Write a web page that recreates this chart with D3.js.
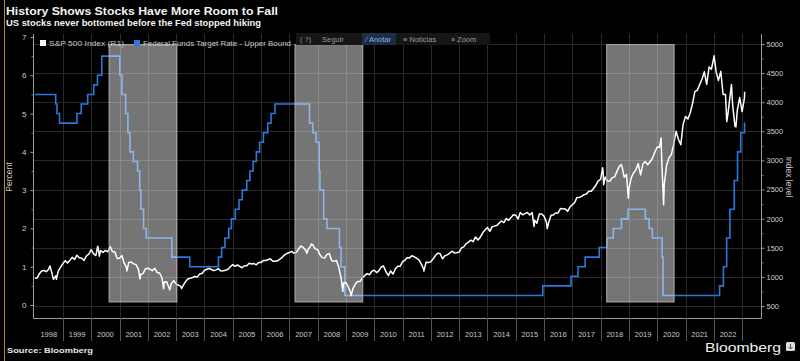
<!DOCTYPE html>
<html>
<head>
<meta charset="utf-8">
<script src="https://cdn.jsdelivr.net/npm/d3@7"></script>
<style>
  html, body { margin: 0; padding: 0; background: #000; }
  svg { display: block; font-family: "Liberation Sans", Arial, sans-serif; }
</style>
</head>
<body>
<div id="chart"></div>
<script>
// S&P 500 month-end closes, Jan 1998 .. Jan 2023 (read off the chart / rough)
var spxFirstMonth = "1998-01";
var spxMonthly = [
  980, 1049, 1101, 1111, 1090, 1133, 1120, 957, 1017, 1098, 1163, 1229,
  1279, 1238, 1286, 1335, 1301, 1372, 1328, 1320, 1282, 1362, 1389, 1469,
  1394, 1366, 1499, 1452, 1421, 1455, 1431, 1518, 1437, 1429, 1315, 1320,
  1366, 1240, 1160, 1249, 1256, 1224, 1211, 1134, 1041, 1060, 1139, 1148,
  1130, 1107, 1147, 1077, 1067, 990, 912, 916, 815, 886, 936, 880,
  856, 841, 848, 916, 964, 975, 990, 1008, 996, 1051, 1058, 1112,
  1131, 1145, 1126, 1107, 1121, 1141, 1102, 1104, 1115, 1130, 1174, 1212,
  1181, 1204, 1181, 1157, 1192, 1191, 1234, 1220, 1229, 1207, 1249, 1248,
  1280, 1281, 1295, 1311, 1270, 1270, 1277, 1304, 1336, 1378, 1401, 1418,
  1438, 1407, 1421, 1482, 1531, 1503, 1455, 1474, 1527, 1549, 1481, 1468,
  1379, 1331, 1323, 1386, 1400, 1280, 1267, 1283, 1165, 969, 896, 903,
  826, 735, 798, 873, 919, 919, 987, 1021, 1057, 1036, 1096, 1115,
  1074, 1104, 1169, 1187, 1089, 1031, 1102, 1049, 1141, 1183, 1181, 1258,
  1286, 1327, 1326, 1364, 1345, 1321, 1292, 1219, 1131, 1253, 1247, 1258,
  1312, 1366, 1408, 1398, 1310, 1362, 1379, 1407, 1441, 1412, 1416, 1426,
  1498, 1515, 1569, 1598, 1631, 1606, 1686, 1633, 1682, 1757, 1806, 1848,
  1783, 1859, 1872, 1884, 1924, 1960, 1931, 2003, 1972, 2018, 2068, 2059,
  1995, 2105, 2068, 2086, 2107, 2063, 2104, 1972, 1920, 2079, 2080, 2044,
  1940, 1932, 2060, 2065, 2097, 2099, 2174, 2171, 2168, 2126, 2199, 2239,
  2279, 2364, 2363, 2384, 2412, 2423, 2470, 2472, 2519, 2575, 2648, 2674,
  2824, 2714, 2641, 2648, 2705, 2718, 2816, 2902, 2914, 2712, 2760, 2507,
  2704, 2784, 2834, 2946, 2752, 2942, 2980, 2926, 2977, 3038, 3141, 3231,
  3226, 2954, 2585, 2912, 3044, 3100, 3271, 3500, 3363, 3270, 3622, 3756,
  3714, 3811, 3973, 4181, 4204, 4298, 4395, 4523, 4308, 4605, 4567, 4766,
  4516, 4374, 4530, 4132, 4132, 3785, 4130, 3955, 3586, 3872, 4080, 3840,
  4077
];
// intra-month highs / lows that show up as spikes in the line
var spxExtremeDates = ["1998-01-02","1998-07-17","1998-10-08","2000-03-24","2000-04-14","2000-09-01",
  "2001-04-04","2001-09-21","2002-07-23","2002-10-09","2003-03-11","2007-08-15","2007-10-09",
  "2008-11-20","2009-03-09","2010-07-02","2011-10-03","2015-08-25","2016-02-11","2018-01-26",
  "2018-02-08","2018-09-20","2018-12-24","2020-02-19","2020-03-23","2022-01-03","2022-06-16",
  "2022-08-16","2022-10-12","2023-02-02"];
var spxExtremeValues = [975, 1187, 960, 1527, 1356, 1520,
  1103, 966, 797, 777, 800, 1406, 1565,
  752, 677, 1022, 1099, 1867, 1829, 2873,
  2581, 2931, 2351, 3386, 2237, 4797, 3667,
  4305, 3577, 4180];

// Fed funds target rate, upper bound: change dates and new level
var fedDates = ["1998-01-01","1998-09-29","1998-10-15","1998-11-17","1999-06-30","1999-08-24","1999-11-16",
  "2000-02-02","2000-03-21","2000-05-16","2001-01-03","2001-01-31","2001-03-20","2001-04-18","2001-05-15",
  "2001-06-27","2001-08-21","2001-09-17","2001-10-02","2001-11-06","2001-12-11","2002-11-06","2003-06-25",
  "2004-06-30","2004-08-10","2004-09-21","2004-11-10","2004-12-14","2005-02-02","2005-03-22","2005-05-03",
  "2005-06-30","2005-08-09","2005-09-20","2005-11-01","2005-12-13","2006-01-31","2006-03-28","2006-05-10",
  "2006-06-29","2007-09-18","2007-10-31","2007-12-11","2008-01-22","2008-01-30","2008-03-18","2008-04-30",
  "2008-10-08","2008-10-29","2008-12-16","2015-12-16","2016-12-14","2017-03-15","2017-06-14","2017-12-13",
  "2018-03-21","2018-06-13","2018-09-26","2018-12-19","2019-07-31","2019-09-18","2019-10-30","2020-03-03",
  "2020-03-15","2022-03-16","2022-05-04","2022-06-15","2022-07-27","2022-09-21","2022-11-02","2022-12-14",
  "2023-02-01","2023-02-06"];
var fedRates = [5.5, 5.25, 5.0, 4.75, 5.0, 5.25, 5.5,
  5.75, 6.0, 6.5, 6.0, 5.5, 5.0, 4.5, 4.0,
  3.75, 3.5, 3.0, 2.5, 2.0, 1.75, 1.25, 1.0,
  1.25, 1.5, 1.75, 2.0, 2.25, 2.5, 2.75, 3.0,
  3.25, 3.5, 3.75, 4.0, 4.25, 4.5, 4.75, 5.0,
  5.25, 4.75, 4.5, 4.25, 3.5, 3.0, 2.25, 2.0,
  1.5, 1.0, 0.25, 0.5, 0.75, 1.0, 1.25, 1.5,
  1.75, 2.0, 2.25, 2.5, 2.25, 2.0, 1.75, 1.25,
  0.25, 0.5, 1.0, 1.75, 2.5, 3.25, 4.0, 4.5,
  4.75, 4.75];

// periods shaded grey
var shadeStarts = ["2000-08-18", "2007-03-15", "2018-03-20"];
var shadeEnds = ["2003-01-10", "2009-08-05", "2020-08-05"];

var years = d3.range(1998, 2023);   // labelled years
var leftTicks = [0, 1, 2, 3, 4, 5, 6, 7];
var rightTicks = [500, 1000, 1500, 2000, 2500, 3000, 3500, 4000, 4500, 5000];

// 設定
var width = 800, height = 361;
var plot = { left: 33, right: 761, top: 34, bottom: 318 };
var blue = "#2a78dc";
var parse = d3.timeParse("%Y-%m-%d");

var svg = d3.select("#chart").append("svg").attr("width", width).attr("height", height);
svg.append("rect").attr("width", width).attr("height", height).attr("fill", "#000");

var x = d3.scaleTime()
  .domain([new Date(1998, 0, 1), new Date(2023, 8, 1)])
  .range([34.7, plot.right]);
var yL = d3.scaleLinear().domain([0, 7]).range([305, 37]);
var yR = d3.scaleLinear().domain([500, 5000]).range([306, 44]);

// build S&P series
var m0 = d3.timeParse("%Y-%m")(spxFirstMonth);
var spx = spxMonthly.map(function(v, i) {
  var d = d3.timeMonth.offset(m0, i + 1);
  return { date: d3.timeDay.offset(d, -1), value: v };
});
spxExtremeDates.forEach(function(s, i) { spx.push({ date: parse(s), value: spxExtremeValues[i] }); });
spx.sort(function(a, b) { return a.date - b.date; });

var fed = fedDates.map(function(s, i) { return { date: parse(s), value: fedRates[i] }; });

// grid
var grid = svg.append("g").attr("stroke", "#2a2a2a").attr("stroke-width", 1);
grid.selectAll(".gh").data(rightTicks).enter().append("line")
  .attr("x1", plot.left).attr("x2", plot.right)
  .attr("y1", function(d) { return Math.round(yR(d)) + 0.5; })
  .attr("y2", function(d) { return Math.round(yR(d)) + 0.5; });
grid.selectAll(".gv").data(d3.range(1999, 2024)).enter().append("line")
  .attr("x1", function(d) { return Math.round(x(new Date(d, 0, 1))) + 0.5; })
  .attr("x2", function(d) { return Math.round(x(new Date(d, 0, 1))) + 0.5; })
  .attr("y1", plot.top).attr("y2", plot.bottom);

// lines
svg.append("path").datum(fed)
  .attr("fill", "none").attr("stroke", blue).attr("stroke-width", 1.6)
  .attr("d", d3.line().curve(d3.curveStepAfter)
    .x(function(d) { return x(d.date); })
    .y(function(d) { return yL(d.value); }));

svg.append("path").datum(spx)
  .attr("fill", "none").attr("stroke", "#fff").attr("stroke-width", 1.5)
  .attr("stroke-linejoin", "round")
  .attr("d", d3.line()
    .x(function(d) { return x(d.date); })
    .y(function(d) { return yR(d.value); }));

// shaded boxes on top (light overlay)
svg.selectAll(".shade").data(shadeStarts).enter().append("rect")
  .attr("x", function(d) { return x(parse(d)); })
  .attr("width", function(d, i) { return x(parse(shadeEnds[i])) - x(parse(d)); })
  .attr("y", yL(6.8))
  .attr("height", yL(0.08) - yL(6.8))
  .attr("fill", "#fff").attr("fill-opacity", 0.46)
  .attr("stroke", "#b0b0b0").attr("stroke-width", 1);

// frame
var axisCol = "#9a9a9a";
svg.append("path")
  .attr("d", "M" + (plot.left + 0.5) + "," + plot.top + "V" + (plot.bottom + 0.5) + "H" + (plot.right + 0.5) + "V" + plot.top)
  .attr("fill", "none").attr("stroke", axisCol);

// left axis
var gL = svg.append("g").attr("transform", "translate(" + (plot.left + 0.5) + ",0)")
  .call(d3.axisLeft(yL).tickValues(leftTicks).tickSize(3).tickFormat(d3.format("d")));
gL.select(".domain").remove();
gL.selectAll("line").attr("stroke", axisCol);
gL.selectAll("text").attr("fill", "#cfcfcf").attr("font-size", 8).attr("dx", -1);
svg.append("g").attr("transform", "translate(" + (plot.left + 0.5) + ",0)")
  .call(d3.axisLeft(yL).tickValues(d3.range(0.5, 7, 1)).tickSize(2).tickFormat(""))
  .call(function(g) { g.select(".domain").remove(); g.selectAll("line").attr("stroke", "#777"); });

// right axis
var gR = svg.append("g").attr("transform", "translate(" + (plot.right + 0.5) + ",0)")
  .call(d3.axisRight(yR).tickValues(rightTicks).tickSize(3).tickFormat(d3.format("d")));
gR.select(".domain").remove();
gR.selectAll("line").attr("stroke", axisCol);
gR.selectAll("text").attr("fill", "#cfcfcf").attr("font-size", 7.5).attr("x", 5);
svg.append("g").attr("transform", "translate(" + (plot.right + 0.5) + ",0)")
  .call(d3.axisRight(yR).tickValues(d3.range(750, 5000, 500)).tickSize(2).tickFormat(""))
  .call(function(g) { g.select(".domain").remove(); g.selectAll("line").attr("stroke", "#777"); });

// year separators and labels
svg.selectAll(".ysep").data(d3.range(1999, 2024)).enter().append("line")
  .attr("x1", function(d) { return Math.round(x(new Date(d, 0, 1))) + 0.5; })
  .attr("x2", function(d) { return Math.round(x(new Date(d, 0, 1))) + 0.5; })
  .attr("y1", plot.bottom).attr("y2", 341)
  .attr("stroke", "#555");
svg.selectAll(".ylab").data(years).enter().append("text")
  .attr("x", function(d) { return x(new Date(d, 6, 2)); })
  .attr("y", 337)
  .attr("text-anchor", "middle").attr("font-size", 7.5).attr("fill", "#c8c8c8")
  .text(function(d) { return d; });

// axis titles
svg.append("text").attr("transform", "translate(12,177) rotate(-90)")
  .attr("text-anchor", "middle").attr("font-size", 8.5).attr("fill", "#c8c8c8").text("Percent");
svg.append("text").attr("transform", "translate(786,177) rotate(90)")
  .attr("text-anchor", "middle").attr("font-size", 8.5).attr("fill", "#c8c8c8").text("Index level");

// toolbar overlay (behind legend text)
var tb = svg.append("g").attr("font-size", 7.5).attr("fill", "#9a9a9a");
tb.append("rect").attr("x", 296).attr("y", 33).attr("width", 194).attr("height", 12).attr("fill", "#161616");
tb.append("rect").attr("x", 362).attr("y", 33).attr("width", 34).attr("height", 12).attr("fill", "#1b2d47");
tb.append("text").attr("x", 300).attr("y", 42).text("( ?)");
tb.append("text").attr("x", 322).attr("y", 42).text("Seguir");
tb.append("text").attr("x", 366).attr("y", 42).attr("fill", "#8fb2e0").text("\u2215  Anotar");
tb.append("text").attr("x", 403).attr("y", 42).text("\u2261  Noticias");
tb.append("text").attr("x", 451).attr("y", 42).text("\u2315  Zoom");

// legend
var lg = svg.append("g").attr("font-size", 8).attr("fill", "#c8c8c8");
lg.append("rect").attr("x", 40).attr("y", 40).attr("width", 6).attr("height", 6).attr("fill", "#fff");
lg.append("text").attr("x", 49).attr("y", 46).attr("textLength", 75).attr("lengthAdjust", "spacingAndGlyphs")
  .text("S&P 500 Index (R1)");
lg.append("rect").attr("x", 134).attr("y", 40).attr("width", 6).attr("height", 6).attr("fill", blue);
lg.append("text").attr("x", 143).attr("y", 46).attr("textLength", 148).attr("lengthAdjust", "spacingAndGlyphs")
  .text("Federal Funds Target Rate - Upper Bound");

// titles
svg.append("text").attr("x", 6).attr("y", 15).attr("font-size", 11.5).attr("font-weight", "bold")
  .attr("fill", "#f2f2f2").attr("textLength", 272).attr("lengthAdjust", "spacingAndGlyphs")
  .text("History Shows Stocks Have More Room to Fall");
svg.append("text").attr("x", 6).attr("y", 26).attr("font-size", 8.5).attr("font-weight", "bold")
  .attr("fill", "#f2f2f2").attr("textLength", 255).attr("lengthAdjust", "spacingAndGlyphs")
  .text("US stocks never bottomed before the Fed stopped hiking");
svg.append("text").attr("x", 7).attr("y", 353).attr("font-size", 8).attr("font-weight", "bold")
  .attr("fill", "#e6e6e6").attr("textLength", 86).attr("lengthAdjust", "spacingAndGlyphs")
  .text("Source: Bloomberg");
svg.append("text").attr("x", 705).attr("y", 352).attr("font-size", 13.5)
  .attr("fill", "#f2f2f2").attr("textLength", 76).attr("lengthAdjust", "spacingAndGlyphs")
  .text("Bloomberg");
svg.append("rect").attr("x", 786).attr("y", 342).attr("width", 9).attr("height", 9)
  .attr("rx", 1.5).attr("fill", "#ddd");
svg.append("path").attr("d", "M790.5,344V349M788.5,347L790.5,349L792.5,347")
  .attr("stroke", "#555").attr("fill", "none");

// window border artefact at the left
svg.append("line").attr("x1", 4.5).attr("x2", 4.5).attr("y1", 0).attr("y2", height)
  .attr("stroke", "#b8862c").attr("stroke-width", 1);
</script>
</body>
</html>
